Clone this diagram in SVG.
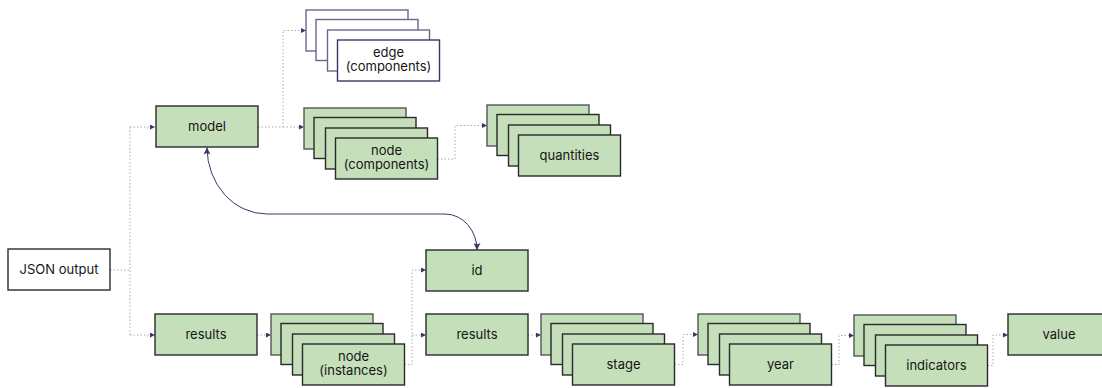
<svg xmlns="http://www.w3.org/2000/svg" width="1102" height="388" viewBox="0 0 1102 388">
<defs>
<style>
.g{fill:#c5dfbb;stroke:#2a2a2a;stroke-width:1.4}
.gb{fill:#c5dfbb;stroke:#555;stroke-width:1.4}
.w{fill:#fff;stroke:#2a2a2a;stroke-width:1.4}
.e{fill:#fff;stroke:#3b3666;stroke-width:1.4}
.eb{fill:#fff;stroke:#6a6690;stroke-width:1.4}
text{font-family:Inter,"Noto Sans","Liberation Sans",sans-serif;font-size:13px;fill:#151515;text-anchor:middle}
.c{fill:none;stroke:#aaa;stroke-width:1;stroke-dasharray:1.5 2}
.k{fill:none;stroke:#3c3566;stroke-width:1}
</style>
<marker id="a" viewBox="0 0 10 10" refX="10" refY="5" markerWidth="5" markerHeight="5" markerUnits="userSpaceOnUse" orient="auto"><path d="M0,0 L10,5 L0,10z" fill="#3c3566"/></marker>
<marker id="b" viewBox="0 0 10 10" refX="10" refY="5" markerWidth="8" markerHeight="7" markerUnits="userSpaceOnUse" orient="auto-start-reverse"><path d="M0,0 L10,5 L0,10 L2,5z" fill="#3c3566"/></marker>
<g id="stackG"><rect class="gb" x="0" y="0" width="102" height="41"/><rect class="g" x="10" y="9.5" width="102" height="41"/><rect class="g" x="21.5" y="20" width="102" height="41"/><rect class="g" x="31.5" y="30" width="102" height="41"/></g>
</defs>
<g id="connectors">
<path class="c" d="M110,270 H130 M130,127 V335"/>
<path class="c" d="M130,127 H155" marker-end="url(#a)"/>
<path class="c" d="M130,335 H155" marker-end="url(#a)"/>
<path class="c" d="M258,127 H283 V30.5 H306" marker-end="url(#a)"/>
<path class="c" d="M283,127 H304" marker-end="url(#a)"/>
<path class="c" d="M437.5,159 H455 V125.5 H487" marker-end="url(#a)"/>
<path class="c" d="M257,335 H271" marker-end="url(#a)"/>
<path class="c" d="M404.5,364.5 H412 V270 H426" marker-end="url(#a)"/>
<path class="c" d="M412,335 H426" marker-end="url(#a)"/>
<path class="c" d="M528,335 H541" marker-end="url(#a)"/>
<path class="c" d="M674.5,364.5 H683 V334.5 H698" marker-end="url(#a)"/>
<path class="c" d="M831.5,364.5 H839 V335.5 H854" marker-end="url(#a)"/>
<path class="c" d="M987.5,365.5 H993 V335 H1008" marker-end="url(#a)"/>
<path class="k" d="M207,147.5 A60,66.5 0 0 0 267,214 L445,214 A32,36 0 0 1 477,250" marker-start="url(#b)" marker-end="url(#b)"/>
</g>
<g id="json"><rect class="w" x="8" y="249" width="102" height="41"/><text x="59" y="274">JSON output</text></g>
<g id="model"><rect class="g" x="156" y="106" width="102" height="41"/><text x="207" y="131">model</text></g>
<g id="edge"><rect class="eb" x="306" y="10" width="102" height="41"/><rect class="eb" x="316" y="19.5" width="102" height="41"/><rect class="eb" x="327.5" y="30" width="102" height="41"/><rect class="e" x="337.5" y="40" width="102" height="41"/><text x="388.5" y="57">edge</text><text x="388.5" y="71">(components)</text></g>
<g id="nodecomp"><use href="#stackG" x="304" y="108"/><text x="386.5" y="155">node</text><text x="386.5" y="169">(components)</text></g>
<g id="quantities"><use href="#stackG" x="487" y="105"/><text x="569.5" y="160">quantities</text></g>
<g id="results1"><rect class="g" x="155" y="314" width="102" height="41"/><text x="206" y="339">results</text></g>
<g id="nodeinst"><use href="#stackG" x="271" y="314"/><text x="353.5" y="361">node</text><text x="353.5" y="375">(instances)</text></g>
<g id="id"><rect class="g" x="426" y="250" width="102" height="41"/><text x="477" y="275">id</text></g>
<g id="results2"><rect class="g" x="426" y="314" width="102" height="41"/><text x="477" y="339">results</text></g>
<g id="stage"><use href="#stackG" x="541" y="314"/><text x="623.5" y="369">stage</text></g>
<g id="year"><use href="#stackG" x="698" y="314"/><text x="780.5" y="369">year</text></g>
<g id="indicators"><use href="#stackG" x="854" y="315"/><text x="936.5" y="370">indicators</text></g>
<g id="value"><rect class="g" x="1008" y="314" width="102" height="41"/><text x="1059" y="339">value</text></g>
</svg>
